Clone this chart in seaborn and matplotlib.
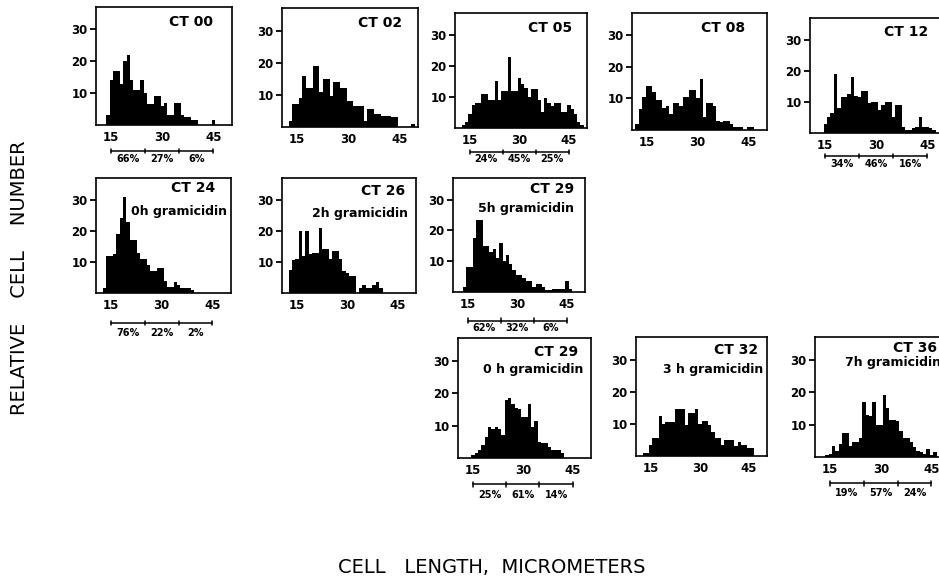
"""
Cell length histograms by circadian time, with gramicidin treatment panels.
"""
import matplotlib

matplotlib.use("Agg")
import matplotlib.pyplot as plt
import matplotlib.transforms as mtransforms
import pandas as pd
import seaborn as sns

W, H = 939, 580

# cell length bins (micrometers), one value per 1 um bin
LENGTHS = list(range(12, 50))

CT00 = [0, 0, 3, 14, 17, 17, 13, 20, 22, 14,
        11, 11, 14, 10, 6.5, 6.5, 9, 9, 6, 7,
        3, 3, 7, 7, 3, 2.5, 2.5, 1.5, 1.5, 0,
        0, 0, 0, 1.5, 0, 0, 0, 0]
CT02 = [0, 2, 7, 7, 9, 16, 12, 12, 19, 19,
        11, 15, 15, 9.5, 14, 14, 12, 12, 8, 8,
        6.5, 6.5, 6.5, 2, 5.5, 5.5, 4, 4, 3.5, 3.5,
        3.5, 3, 3, 0, 0, 0, 0, 1]
CT05 = [0, 1, 2, 4.5, 7.5, 8, 8, 11, 11, 9,
        9, 15, 9, 12, 12, 23, 12, 12, 16, 14,
        13, 10, 12.5, 12.5, 9, 5, 9.5, 8, 7, 8,
        8, 5, 5, 7.5, 6, 4.5, 2, 1]
CT08 = [2, 6.5, 10.5, 14, 14, 12, 9.5, 9.5, 7, 7.5,
        5, 8.5, 8.5, 7.5, 10.5, 10.5, 12.5, 12.5, 10, 16,
        4, 8.5, 8.5, 7.5, 3, 2.5, 3, 3, 2, 1,
        1, 1, 0, 1, 1, 0, 0, 0]
CT12 = [0, 0, 0, 3, 5, 6.5, 19, 8, 11.5, 11.5,
        12.5, 18, 12, 11.5, 13.5, 13.5, 9.5, 10, 10, 7.5,
        9, 10, 10, 5, 9, 9, 2, 1, 1, 1.5,
        2, 5, 2, 2, 1.5, 1, 0, 0]
CT24 = [0, 1.5, 12, 12, 12.5, 19, 24, 31, 23, 17,
        17, 13, 11, 11, 9, 7, 7, 8, 8, 4,
        2, 2, 3.5, 2.5, 1.5, 1.5, 1.5, 1, 0, 0,
        0, 0, 0, 0, 0, 0, 0, 0]
CT26 = [0, 7.5, 10.5, 11, 20, 12, 20, 12.5, 13, 13,
        21, 14, 14, 11, 13.5, 13.5, 11, 7, 6.5, 5.5,
        5.5, 0, 1.5, 2.5, 1.5, 1.5, 2.5, 3.5, 1.5, 0,
        0, 0, 0, 0, 0, 0, 0, 0]
CT29_5H = [0, 0, 1.5, 8, 8, 17.5, 23.5, 23.5, 15, 15,
           13, 14, 11, 16, 10, 12, 9, 7, 5.5, 5.5,
           4.5, 3.5, 3.5, 1.5, 2.5, 2.5, 1.5, 0.5, 0.5, 1,
           1, 1, 1, 3.5, 1, 0, 0, 0]
CT29_0H = [0, 0, 0, 1, 1.5, 2.5, 4, 6.5, 9.5, 9,
           9.5, 9, 7, 18, 18.5, 16.5, 15.5, 15, 12.5, 12.5,
           16.5, 9.5, 11.5, 5, 4.5, 4.5, 3.5, 2.5, 2.5, 2.5,
           1.5, 0, 0, 0, 0, 0, 0, 0]
CT32 = [0, 1, 1, 3.5, 5.5, 5.5, 12.5, 10, 10.5, 10.5,
        10.5, 14.5, 14.5, 14.5, 9.5, 13.5, 13.5, 14.5, 10, 11,
        11, 9.5, 7.5, 5.5, 5.5, 3.5, 5, 5, 5, 3,
        4.5, 3.5, 3.5, 2.5, 2.5, 0, 0, 0]
CT36 = [0, 0, 0.5, 1, 3.5, 2, 4, 7.5, 7.5, 3.5,
        4.5, 4.5, 6, 17, 13, 12.5, 17, 10, 10, 19,
        15, 11.5, 11.5, 11, 8, 6, 6, 4.5, 3, 2,
        1.5, 1, 2.5, 0.5, 1.5, 0, 0, 0]

TITLES = ["CT 00", "CT 02", "CT 05", "CT 08", "CT 12",
          "CT 24", "CT 26", "CT 29", "CT 29", "CT 32", "CT 36"]
SUBTITLES = [None, None, None, None, None,
             "0h gramicidin", "2h gramicidin", "5h gramicidin",
             "0 h gramicidin", "3 h gramicidin", "7h gramicidin"]
SHARES = [["66%", "27%", "6%"], None, ["24%", "45%", "25%"], None,
          ["34%", "46%", "16%"], ["76%", "22%", "2%"], None,
          ["62%", "32%", "6%"], ["25%", "61%", "14%"], None,
          ["19%", "57%", "24%"]]
SERIES = [CT00, CT02, CT05, CT08, CT12, CT24, CT26,
          CT29_5H, CT29_0H, CT32, CT36]

SHARE_EDGES = [15, 25, 35, 45]
SHARE_CENTERS = [20, 30, 40]

# panel boxes in pixels: left, top, right, bottom
BOXES = [(96, 7, 232, 125), (282, 8, 418, 127), (455, 13, 587, 128),
         (632, 13, 767, 130), (810, 18, 946, 133),
         (96, 178, 231, 293), (282, 178, 416, 293), (453, 178, 585, 292),
         (458, 338, 591, 458), (636, 337, 767, 456), (815, 337, 950, 457)]
# (title x, title y, subtitle x, subtitle y) in axes fractions
LABEL_POS = [(0.86, 0.87, 0, 0), (0.88, 0.87, 0, 0), (0.885, 0.87, 0, 0),
             (0.84, 0.87, 0, 0), (0.87, 0.875, 0, 0),
             (0.88, 0.91, 0.97, 0.71), (0.92, 0.89, 0.94, 0.69),
             (0.92, 0.90, 0.92, 0.73), (0.90, 0.885, 0.94, 0.735),
             (0.93, 0.89, 0.97, 0.73), (0.90, 0.91, 0.93, 0.785)]
SHARE_Y = [(-0.22, -0.29), None, (-0.21, -0.27), None, (-0.20, -0.27),
           (-0.26, -0.35), None, (-0.25, -0.32), (-0.22, -0.31), None,
           (-0.22, -0.30)]


def px_rect(left, top, right, bottom):
    return [left / W, 1 - bottom / H, (right - left) / W, (bottom - top) / H]


def draw_panel(fig, i):
    ax = fig.add_axes(px_rect(*BOXES[i]))
    frame = pd.DataFrame({"length": LENGTHS, "cells": SERIES[i]})
    sns.histplot(data=frame, x="length", weights="cells", discrete=True,
                 element="step", fill=True, color="black", alpha=1,
                 linewidth=0, ax=ax)
    ax.set_xlim(10.5, 50.5)
    ax.set_ylim(0, 37)
    ax.set_xticks([15, 30, 45])
    ax.set_yticks([10, 20, 30])
    ax.set_xlabel("")
    ax.set_ylabel("")
    ax.tick_params(axis="x", bottom=False, length=0, pad=4.5, labelsize=8.5,
                   colors="black")
    ax.tick_params(axis="y", left=True, length=4, width=1.3, pad=2,
                   labelsize=8.5, direction="out", colors="black")
    for lab in ax.get_xticklabels() + ax.get_yticklabels():
        lab.set_fontweight("bold")
    for sp in ax.spines.values():
        sp.set_visible(True)
        sp.set_color("black")
        sp.set_linewidth(1.2)

    tx, ty, sx, sy = LABEL_POS[i]
    ax.text(tx, ty, TITLES[i], transform=ax.transAxes, ha="right",
            va="center", fontsize=10, fontweight="bold", color="black")
    if SUBTITLES[i]:
        ax.text(sx, sy, SUBTITLES[i], transform=ax.transAxes, ha="right",
                va="center", fontsize=9, fontweight="bold", color="black")

    if SHARES[i]:
        line_y, text_y = SHARE_Y[i]
        trans = mtransforms.blended_transform_factory(ax.transData,
                                                      ax.transAxes)
        ax.plot([SHARE_EDGES[0], SHARE_EDGES[-1]], [line_y, line_y],
                color="black", lw=1.1, transform=trans, clip_on=False)
        for e in SHARE_EDGES:
            ax.plot([e, e], [line_y - 0.02, line_y + 0.02], color="black",
                    lw=1.1, transform=trans, clip_on=False)
        for c, s in zip(SHARE_CENTERS, SHARES[i]):
            ax.text(c, text_y, s, transform=trans, ha="center", va="center",
                    fontsize=7, fontweight="bold", color="black")
    return ax


sns.set_theme(style="white")
plt.rcParams["font.family"] = ["DejaVu Sans"]
plt.rcParams["text.color"] = "black"
plt.rcParams["xtick.color"] = "black"
plt.rcParams["ytick.color"] = "black"

fig = plt.figure(figsize=(W / 100, H / 100), dpi=100)
for i in range(len(SERIES)):
    draw_panel(fig, i)

fig.text(0.524, 0.022, "CELL   LENGTH,  MICROMETERS", ha="center",
         va="center", fontsize=14, color="black")
fig.text(0.021, 0.522, "RELATIVE    CELL    NUMBER", ha="center",
         va="center", rotation=90, fontsize=14, color="black")

fig.savefig("out.png", dpi=100)
